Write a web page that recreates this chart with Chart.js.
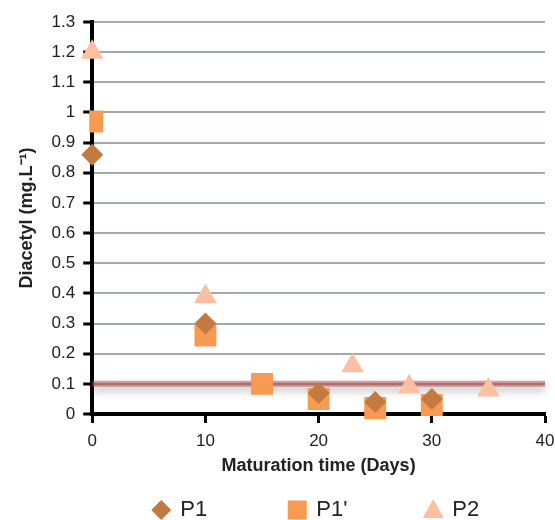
<!DOCTYPE html>
<html>
<head>
<meta charset="utf-8">
<script src="https://cdn.jsdelivr.net/npm/chart.js@4.4.1/dist/chart.umd.min.js"></script>
<style>
  html, body { margin: 0; padding: 0; background: #fff; }
  #wrap { width: 555px; height: 520px; }
</style>
</head>
<body>
<div id="wrap"><canvas id="chart-scatter"></canvas></div>
<script>
'use strict';

// [ data ]
var seriesNames = ["P1", "P1'", "P2"];
var p1Days = [0, 10, 20, 25, 30];
var p1Values = [0.86, 0.30, 0.07, 0.04, 0.05];
var p1pDays = [0, 10, 15, 20, 25, 30];
var p1pValues = [0.97, 0.26, 0.10, 0.05, 0.02, 0.03];
var p2Days = [0, 10, 23, 28, 35];
var p2Values = [1.20, 0.39, 0.16, 0.09, 0.08];
var limitDays = [0, 40];
var limitValues = [0.1, 0.1];

var colors = ['#c4793e', '#f79a52', '#fbbfa2'];
var shapes = ['rectRot', 'rect', 'triangle'];
var radii = [11, 15.5, 13];

function toPoints(xs, ys) {
    return xs.map(function(x, i) { return {x: x, y: ys[i]}; });
}

var FONT = "'Liberation Sans', Arial, Helvetica, sans-serif";
var INK = '#222222';

// shadow under the limit line
var lineShadow = {
    id: 'lineShadow',
    beforeDatasetDraw: function(chart, args) {
        if (args.index !== 3) return;
        var ctx = chart.ctx;
        ctx.save();
        ctx.shadowColor = 'rgba(0,0,0,0.4)';
        ctx.shadowBlur = 7;
        ctx.shadowOffsetY = 5;
    },
    afterDatasetDraw: function(chart, args) {
        if (args.index !== 3) return;
        chart.ctx.restore();
    }
};

// legend drawn by hand so the items can sit far apart
var wideLegend = {
    id: 'wideLegend',
    afterDraw: function(chart) {
        var ctx = chart.ctx;
        var area = chart.chartArea;
        var y = 510;
        var x = area.left + 69;
        ctx.save();
        ctx.font = '22px ' + FONT;
        ctx.textBaseline = 'middle';
        ctx.textAlign = 'left';
        for (var i = 0; i < seriesNames.length; i++) {
            ctx.fillStyle = colors[i];
            ctx.beginPath();
            if (shapes[i] === 'rectRot') {
                ctx.moveTo(x, y - 10); ctx.lineTo(x + 10, y); ctx.lineTo(x, y + 10); ctx.lineTo(x - 10, y);
            } else if (shapes[i] === 'rect') {
                ctx.rect(x - 9.5, y - 9.5, 19, 19);
            } else {
                ctx.moveTo(x, y - 11); ctx.lineTo(x + 10.5, y + 8); ctx.lineTo(x - 10.5, y + 8);
            }
            ctx.closePath();
            ctx.fill();
            ctx.fillStyle = INK;
            ctx.fillText(seriesNames[i], x + 19, y);
            x += 136;
        }
        ctx.restore();
    }
};

var ctxEl = document.getElementById('chart-scatter').getContext('2d');
var myChart = new Chart(ctxEl, {
    type: 'scatter',
    data: {
        datasets: [{
            label: seriesNames[0],
            data: toPoints(p1Days, p1Values),
            pointStyle: shapes[0],
            pointRadius: radii[0],
            backgroundColor: colors[0],
            borderColor: colors[0],
            borderWidth: 0,
            clip: false
        }, {
            label: seriesNames[1],
            data: toPoints(p1pDays, p1pValues),
            pointStyle: shapes[1],
            pointRadius: radii[1],
            backgroundColor: colors[1],
            borderColor: colors[1],
            borderWidth: 0,
            clip: {left: 3, top: false, right: false, bottom: false}
        }, {
            label: seriesNames[2],
            data: toPoints(p2Days, p2Values),
            pointStyle: shapes[2],
            pointRadius: radii[2],
            backgroundColor: colors[2],
            borderColor: colors[2],
            borderWidth: 0,
            clip: false
        }, {
            label: 'limit',
            data: toPoints(limitDays, limitValues),
            showLine: true,
            pointRadius: 0,
            borderColor: 'rgba(184,72,72,0.55)',
            borderWidth: 6,
            order: 10,
            clip: false
        }]
    },
    plugins: [lineShadow, wideLegend],
    options: {
        responsive: true,
        maintainAspectRatio: false,
        animation: false,
        layout: {
            autoPadding: false,
            padding: {top: 22, right: 10, bottom: 43, left: 16}
        },
        plugins: {
            legend: { display: false },
            tooltip: { enabled: false }
        },
        scales: {
            x: {
                type: 'linear',
                min: 0,
                max: 40,
                afterFit: function(scale) { scale.paddingRight = 0; },
                ticks: {
                    stepSize: 10,
                    color: INK,
                    font: {family: FONT, size: 17},
                    padding: 8
                },
                grid: {
                    drawOnChartArea: false,
                    drawTicks: true,
                    tickLength: 9,
                    tickColor: '#000',
                    tickWidth: 3
                },
                border: { color: '#000', width: 4 },
                title: {
                    display: true,
                    text: 'Maturation time (Days)',
                    color: INK,
                    font: {family: FONT, size: 18, weight: 'bold'},
                    padding: {top: -4, bottom: 0}
                }
            },
            y: {
                min: 0,
                max: 1.3,
                ticks: {
                    stepSize: 0.1,
                    color: INK,
                    font: {family: FONT, size: 17},
                    padding: 8,
                    callback: function(v) { return String(Number(v.toFixed(1))); }
                },
                grid: {
                    color: '#a3aaaa',
                    lineWidth: 2,
                    drawTicks: true,
                    tickLength: 9,
                    tickColor: '#000',
                    tickWidth: 3
                },
                border: { color: '#000', width: 4 },
                title: {
                    display: true,
                    text: 'Diacetyl (mg.L\u207B\u00B9)',
                    color: INK,
                    font: {family: FONT, size: 18, weight: 'bold'},
                    padding: {top: 0, bottom: 6}
                }
            }
        }
    }
});
</script>
</body>
</html>
